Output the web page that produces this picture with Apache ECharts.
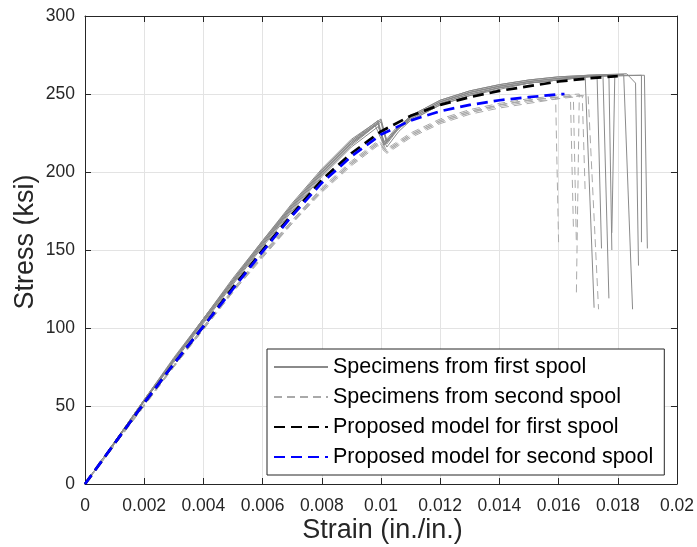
<!DOCTYPE html>
<html>
<head>
<meta charset="utf-8">
<script src="https://cdn.jsdelivr.net/npm/echarts@6/dist/echarts.min.js"></script>
<style>
  html, body { margin: 0; padding: 0; background: #fff; }
  #chart { width: 697px; height: 547px; }
</style>
</head>
<body>
<div id="chart"></div>
<script>
// tick labels
const xTicks = ['0', '0.002', '0.004', '0.006', '0.008', '0.01', '0.012', '0.014', '0.016', '0.018', '0.02']
const yTicks = ['0', '50', '100', '150', '200', '250', '300']

const legendNames = [
  'Specimens from first spool',
  'Specimens from second spool',
  'Proposed model for first spool',
  'Proposed model for second spool'
]

// specimens from first spool [strain, stress ksi]
const first1 = [[0, 0], [0.001, 27], [0.002, 54], [0.003, 80], [0.004, 106], [0.005, 131], [0.006, 156], [0.007, 179], [0.008, 201], [0.009, 220], [0.0099, 233], [0.0101, 219], [0.0105, 228], [0.011, 235], [0.012, 245], [0.013, 251], [0.014, 255], [0.015, 258], [0.016, 260], [0.0169, 261], [0.0172, 113]]
const first2 = [[0, 0], [0.001, 27], [0.002, 53], [0.003, 79], [0.004, 105], [0.005, 130], [0.006, 154], [0.007, 177], [0.008, 199], [0.009, 218], [0.0098, 230], [0.0101, 217], [0.0105, 227], [0.011, 234], [0.012, 244], [0.013, 250], [0.014, 254], [0.015, 257], [0.016, 259], [0.0173, 262], [0.01745, 151]]
const first3 = [[0, 0], [0.001, 26], [0.002, 53], [0.003, 79], [0.004, 104], [0.005, 129], [0.006, 153], [0.007, 176], [0.008, 198], [0.009, 217], [0.0099, 231], [0.0101, 218], [0.0106, 228], [0.011, 233], [0.012, 243], [0.013, 249], [0.014, 254], [0.015, 257], [0.016, 259], [0.017, 261], [0.0175, 262], [0.0177, 119]]
const first4 = [[0, 0], [0.001, 27], [0.002, 54], [0.003, 81], [0.004, 106], [0.005, 132], [0.006, 156], [0.007, 180], [0.008, 202], [0.009, 221], [0.01, 234], [0.0102, 220], [0.0106, 229], [0.011, 236], [0.012, 246], [0.013, 252], [0.014, 256], [0.015, 259], [0.016, 261], [0.017, 262], [0.0177, 262.5], [0.0178, 150]]
const first5 = [[0, 0], [0.001, 26], [0.002, 53], [0.003, 78], [0.004, 103], [0.005, 128], [0.006, 152], [0.007, 175], [0.008, 197], [0.009, 216], [0.0099, 229], [0.0102, 216], [0.0106, 226], [0.011, 233], [0.012, 243], [0.013, 249], [0.014, 253], [0.015, 257], [0.016, 259], [0.017, 261], [0.0179, 262.5], [0.0178, 161]]
const first6 = [[0, 0], [0.001, 27], [0.002, 54], [0.003, 80], [0.004, 105], [0.005, 130], [0.006, 155], [0.007, 178], [0.008, 200], [0.009, 219], [0.0099, 232], [0.0101, 218], [0.0105, 227], [0.011, 235], [0.012, 245], [0.013, 251], [0.014, 255], [0.015, 258], [0.016, 260], [0.017, 261.5], [0.0182, 262.5], [0.0185, 112]]
const first7 = [[0, 0], [0.001, 27], [0.002, 53], [0.003, 80], [0.004, 105], [0.005, 130], [0.006, 154], [0.007, 178], [0.008, 200], [0.009, 219], [0.01, 232], [0.0102, 218], [0.0106, 228], [0.011, 235], [0.012, 245], [0.013, 251], [0.014, 255], [0.015, 258], [0.016, 260], [0.017, 262], [0.0183, 263], [0.0186, 257], [0.0187, 140]]
const first8 = [[0, 0], [0.001, 26], [0.002, 53], [0.003, 79], [0.004, 104], [0.005, 129], [0.006, 153], [0.007, 177], [0.008, 199], [0.009, 218], [0.0099, 231], [0.0101, 217], [0.0105, 226], [0.011, 234], [0.012, 244], [0.013, 250], [0.014, 254], [0.015, 257], [0.016, 259], [0.017, 261], [0.0188, 262], [0.0188, 155]]
const first9 = [[0, 0], [0.001, 27], [0.002, 54], [0.003, 80], [0.004, 106], [0.005, 131], [0.006, 155], [0.007, 179], [0.008, 201], [0.009, 220], [0.01, 233], [0.0102, 219], [0.0106, 229], [0.011, 236], [0.012, 246], [0.013, 252], [0.014, 256], [0.015, 259], [0.016, 261], [0.017, 262], [0.0189, 262], [0.019, 151]]

// specimens from second spool
const second1 = [[0, 0], [0.001, 25], [0.002, 51], [0.003, 76], [0.004, 100], [0.005, 124], [0.006, 147], [0.007, 168], [0.008, 189], [0.009, 206], [0.0099, 219], [0.0102, 214], [0.0106, 219], [0.011, 224], [0.012, 233], [0.013, 239], [0.014, 243], [0.015, 246], [0.0159, 248], [0.016, 155]]
const second2 = [[0, 0], [0.001, 26], [0.002, 51], [0.003, 76], [0.004, 100], [0.005, 124], [0.006, 146], [0.007, 168], [0.008, 188], [0.009, 205], [0.0099, 218], [0.0102, 213], [0.0106, 218], [0.011, 223], [0.012, 232], [0.013, 238], [0.014, 242], [0.015, 245], [0.016, 247], [0.0164, 249], [0.0165, 165]]
const second3 = [[0, 0], [0.001, 25], [0.002, 50], [0.003, 75], [0.004, 99], [0.005, 123], [0.006, 145], [0.007, 167], [0.008, 187], [0.009, 204], [0.0099, 217], [0.0102, 212], [0.0106, 217], [0.011, 222], [0.012, 231], [0.013, 237], [0.014, 241], [0.015, 244], [0.016, 247], [0.0165, 248], [0.0166, 155]]
const second4 = [[0, 0], [0.001, 26], [0.002, 51], [0.003, 76], [0.004, 101], [0.005, 125], [0.006, 148], [0.007, 169], [0.008, 190], [0.009, 207], [0.0099, 220], [0.0102, 215], [0.0106, 220], [0.011, 225], [0.012, 234], [0.013, 240], [0.014, 244], [0.015, 247], [0.016, 249], [0.0167, 250], [0.0166, 120]]
const second5 = [[0, 0], [0.001, 25], [0.002, 50], [0.003, 75], [0.004, 99], [0.005, 123], [0.006, 146], [0.007, 167], [0.008, 188], [0.009, 205], [0.0099, 218], [0.0102, 213], [0.0106, 218], [0.011, 223], [0.012, 232], [0.013, 238], [0.014, 243], [0.015, 246], [0.016, 248], [0.0168, 249], [0.0169, 186]]
const second6 = [[0, 0], [0.001, 25], [0.002, 51], [0.003, 76], [0.004, 100], [0.005, 124], [0.006, 147], [0.007, 169], [0.008, 189], [0.009, 206], [0.0099, 219], [0.0102, 214], [0.0106, 219], [0.011, 224], [0.012, 233], [0.013, 239], [0.014, 243], [0.015, 246], [0.016, 248], [0.017, 249], [0.01735, 112]]

// proposed models
const modelFirst = [[0, 0], [0.001, 26], [0.002, 52], [0.003, 77], [0.004, 101], [0.005, 126], [0.006, 150], [0.007, 173], [0.008, 195], [0.009, 212], [0.01, 226], [0.011, 236], [0.012, 243], [0.013, 248], [0.014, 252], [0.015, 255], [0.016, 258], [0.017, 260], [0.018, 261.5]]
const modelSecond = [[0, 0], [0.001, 26], [0.002, 52], [0.003, 77], [0.004, 101], [0.005, 125], [0.006, 149], [0.007, 172], [0.008, 193], [0.009, 210], [0.01, 224], [0.011, 233], [0.012, 239], [0.013, 243], [0.014, 246], [0.015, 248], [0.016, 249.8], [0.0162, 250]]

const firstSpool = [first1, first2, first3, first4, first5, first6, first7, first8, first9]
const secondSpool = [second1, second2, second3, second4, second5, second6]

const font = '"Liberation Sans", Arial, Helvetica, sans-serif'
const axisColor = '#262626'
const gridColor = '#e3e3e3'

function lineSeries(name, data, color, width, type) {
  return {
    name: name,
    type: 'line',
    data: data,
    symbol: 'none',
    showSymbol: false,
    silent: true,
    animation: false,
    lineStyle: { color: color, width: width, type: type },
    itemStyle: { color: color }
  }
}

const series = []
firstSpool.forEach(d => series.push(lineSeries(legendNames[0], d, '#8a8a8a', 1, 'solid')))
secondSpool.forEach(d => series.push(lineSeries(legendNames[1], d, '#a9a9a9', 1, [8, 5])))
series.push(lineSeries(legendNames[2], modelFirst, '#000000', 2.7, [11, 6]))
series.push(lineSeries(legendNames[3], modelSecond, '#0000ff', 2.7, [11, 6]))

const boxAxis = {
  axisLine: { show: true, onZero: false, lineStyle: { color: axisColor, width: 1 } },
  axisTick: { show: true, inside: true, length: 6, lineStyle: { color: axisColor, width: 1 } }
}

const option = {
  backgroundColor: '#ffffff',
  animation: false,
  grid: { left: 85, top: 16, width: 595, height: 468, containLabel: false },
  xAxis: [
    {
      type: 'value', min: 0, max: 0.02, interval: 0.002, position: 'bottom',
      ...boxAxis,
      axisLabel: {
        margin: 13, color: axisColor, fontSize: 17.5, fontFamily: font,
        formatter: (v, i) => xTicks[i]
      },
      splitLine: { show: true, lineStyle: { color: gridColor, width: 1 } }
    },
    {
      type: 'value', min: 0, max: 0.02, interval: 0.002, position: 'top',
      ...boxAxis,
      axisLabel: { show: false },
      splitLine: { show: false }
    }
  ],
  yAxis: [
    {
      type: 'value', min: 0, max: 300, interval: 50, position: 'left',
      ...boxAxis,
      axisLabel: {
        margin: 10, color: axisColor, fontSize: 17.5, fontFamily: font,
        formatter: (v, i) => yTicks[i]
      },
      splitLine: { show: true, lineStyle: { color: gridColor, width: 1 } }
    },
    {
      type: 'value', min: 0, max: 300, interval: 50, position: 'right',
      ...boxAxis,
      axisLabel: { show: false },
      splitLine: { show: false }
    }
  ],
  legend: {
    data: legendNames,
    orient: 'vertical',
    left: 267,
    top: 349,
    selectedMode: false,
    backgroundColor: '#ffffff',
    borderColor: axisColor,
    borderWidth: 1,
    borderRadius: 0,
    padding: [7, 11, 7, 6],
    itemWidth: 54,
    itemHeight: 14,
    itemGap: 8,
    itemStyle: { opacity: 0 },
    textStyle: { fontSize: 21.5, lineHeight: 22, color: '#000000', fontFamily: font }
  },
  graphic: [
    {
      type: 'text', x: 382.5, y: 531,
      style: {
        text: 'Strain (in./in.)', font: '27px ' + font, fill: axisColor,
        align: 'center', verticalAlign: 'middle'
      }
    },
    {
      type: 'text', x: 26, y: 242, rotation: Math.PI / 2,
      style: {
        text: 'Stress (ksi)', font: '27px ' + font, fill: axisColor,
        align: 'center', verticalAlign: 'middle'
      }
    }
  ],
  series: series
}

const myChart = echarts.init(document.getElementById('chart'), null, { renderer: 'canvas' })
myChart.setOption(option)
window.onresize = myChart.resize
</script>
</body>
</html>
